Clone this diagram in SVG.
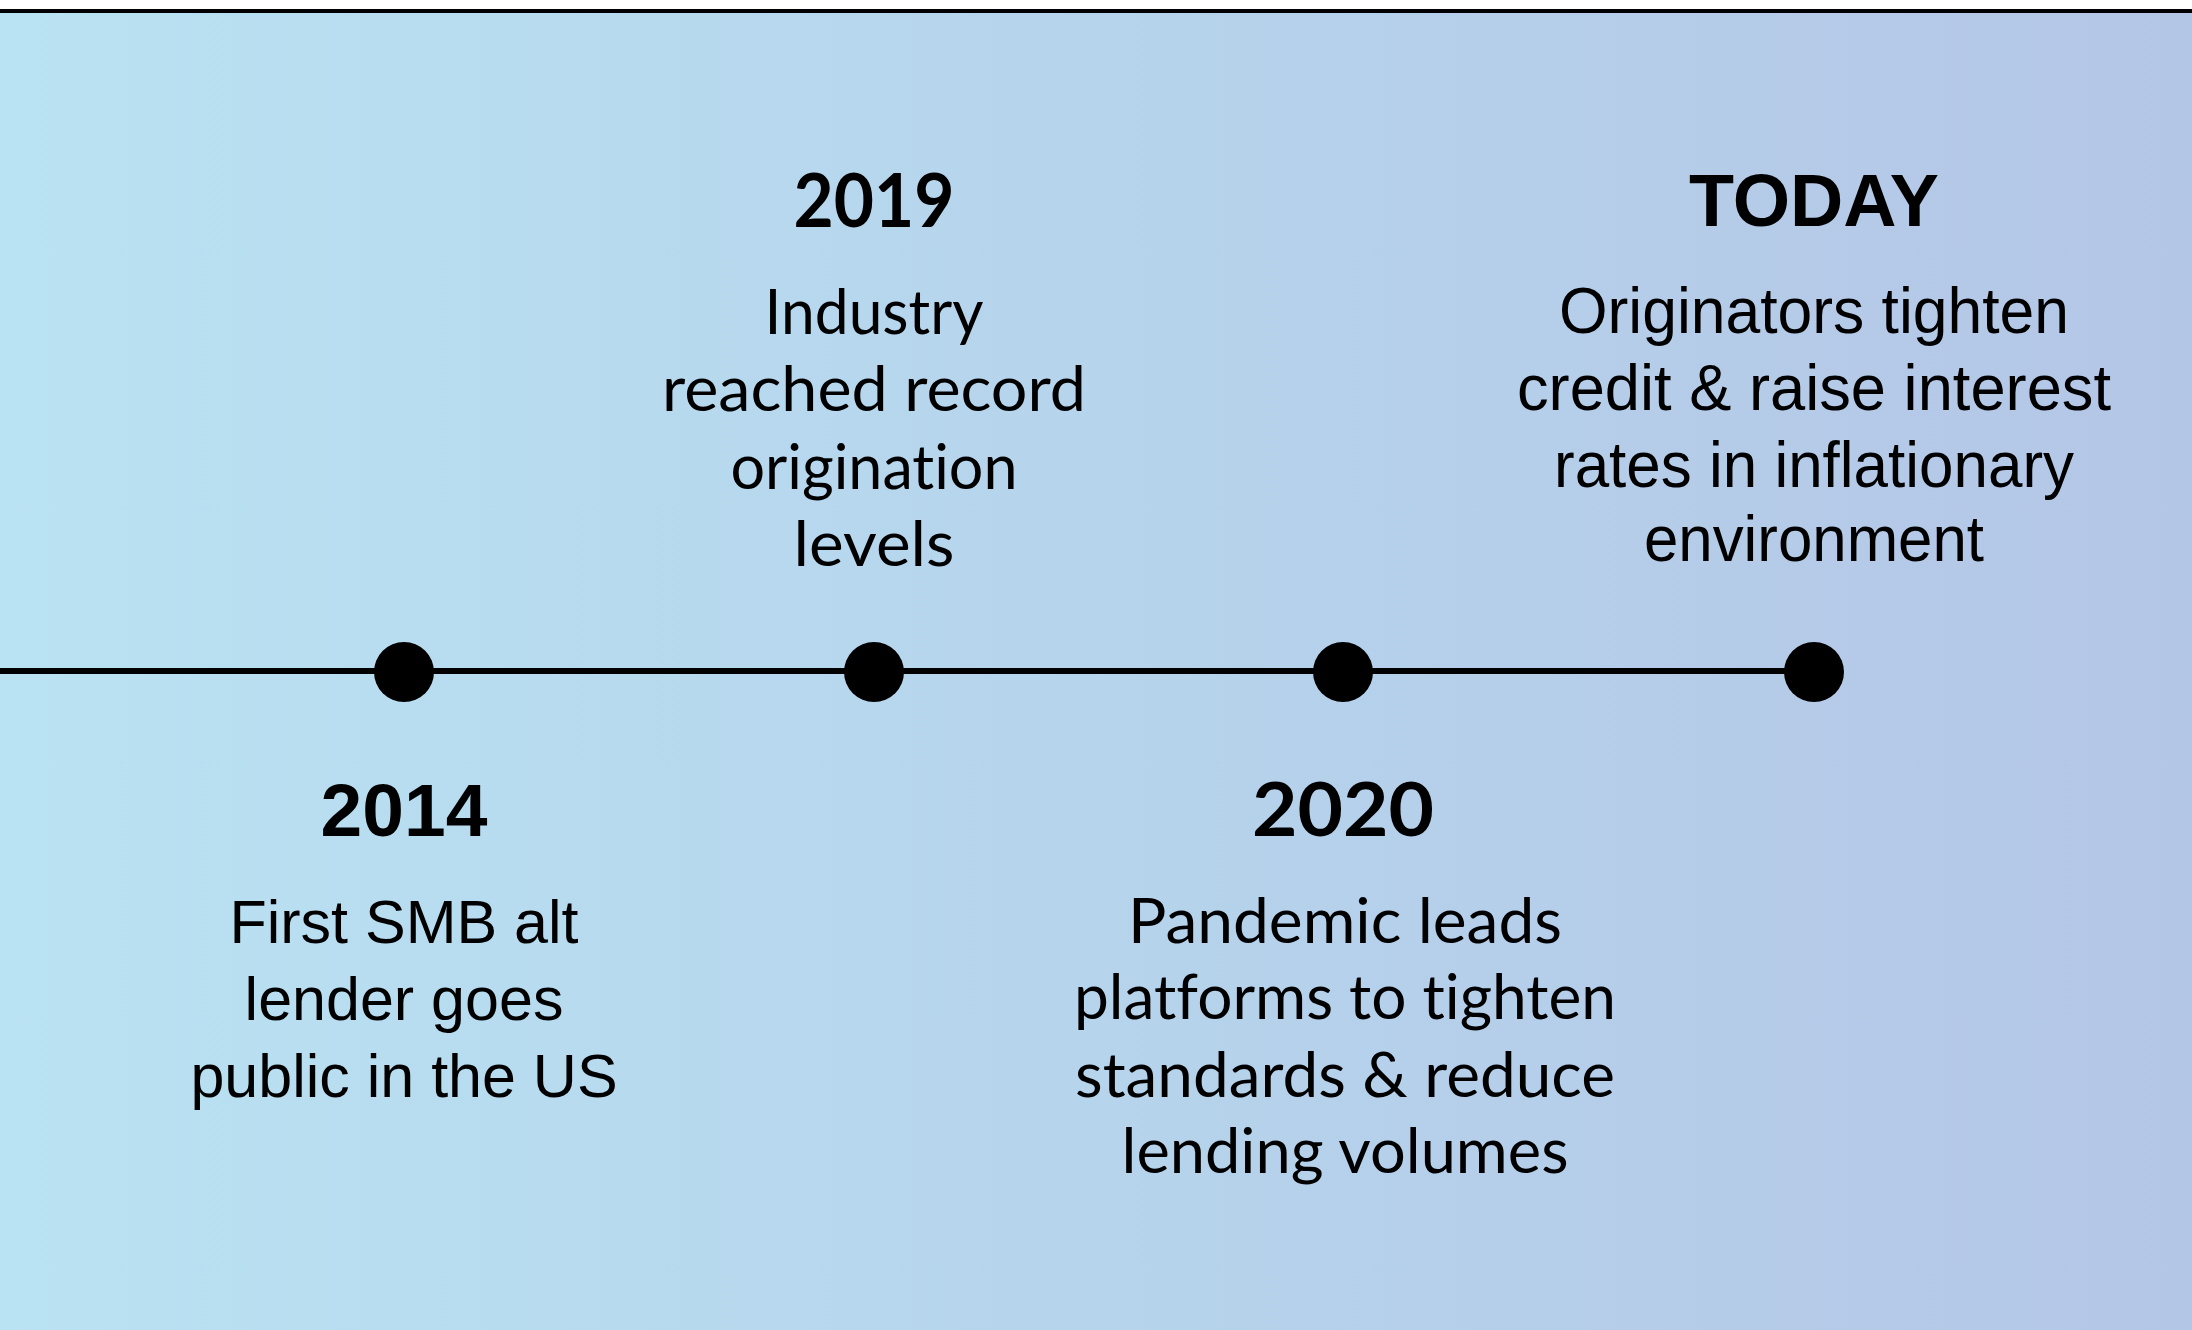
<svg xmlns="http://www.w3.org/2000/svg" width="2192" height="1330" viewBox="0 0 2192 1330">
  <defs>
    <linearGradient id="bg" x1="0" y1="0" x2="1" y2="0">
      <stop offset="0" stop-color="#b9e2f2"/>
      <stop offset="0.5" stop-color="#b6d4ec"/>
      <stop offset="1" stop-color="#b4c6e6"/>
    </linearGradient>
    <style>
      text { fill: #000; text-anchor: middle; font-variant-ligatures: none; }
      .year { font-family: "Liberation Sans", Arial, sans-serif; font-weight: bold; font-size: 75px; }
      .geo-year { font-family: "Lato", "Liberation Sans", sans-serif; font-weight: bold; font-size: 75px; }
      .body { font-family: "Liberation Sans", Arial, sans-serif; font-size: 61px; }
      .body-today { font-family: "Liberation Sans", Arial, sans-serif; font-size: 64px; }
      .geo { font-family: "Lato", "Liberation Sans", sans-serif; font-size: 62px; }
      .dot { fill: #000; }
      .axis { stroke: #000; stroke-width: 6; fill: none; }
    </style>
  </defs>

  <!-- background and top rule -->
  <rect x="0" y="0" width="2192" height="1330" fill="#ffffff"/>
  <rect x="0" y="12" width="2192" height="1318" fill="url(#bg)"/>
  <rect x="0" y="9" width="2192" height="4" fill="#000"/>

  <!-- timeline axis -->
  <g id="connectors">
    <line class="axis" x1="0" y1="671" x2="1814" y2="671"/>
  </g>

  <!-- milestone 2014 -->
  <g id="node-2014">
    <circle class="dot" cx="404" cy="672" r="30"/>
    <text class="year" x="404" y="836">2014</text>
    <text class="body" x="404" y="943">First SMB alt</text>
    <text class="body" x="404" y="1020">lender goes</text>
    <text class="body" x="404" y="1097">public in the US</text>
  </g>

  <!-- milestone 2019 -->
  <g id="node-2019">
    <circle class="dot" cx="874" cy="672" r="30"/>
    <text class="geo-year" x="874" y="227" textLength="161" lengthAdjust="spacingAndGlyphs">2019</text>
    <text class="geo" x="874" y="334" textLength="219" lengthAdjust="spacingAndGlyphs">Industry</text>
    <text class="geo" x="874" y="411" textLength="424" lengthAdjust="spacingAndGlyphs">reached record</text>
    <text class="geo" x="874" y="489" textLength="287" lengthAdjust="spacingAndGlyphs">origination</text>
    <text class="geo" x="874" y="566" textLength="161" lengthAdjust="spacingAndGlyphs">levels</text>
  </g>

  <!-- milestone 2020 -->
  <g id="node-2020">
    <circle class="dot" cx="1343" cy="672" r="30"/>
    <text class="geo-year" x="1343" y="836" textLength="182" lengthAdjust="spacingAndGlyphs">2020</text>
    <text class="geo" x="1345" y="943" textLength="434" lengthAdjust="spacingAndGlyphs">Pandemic leads</text>
    <text class="geo" x="1345" y="1019" textLength="542" lengthAdjust="spacingAndGlyphs">platforms to tighten</text>
    <text class="geo" x="1345" y="1097" textLength="540" lengthAdjust="spacingAndGlyphs">standards &amp; reduce</text>
    <text class="geo" x="1345" y="1173" textLength="447" lengthAdjust="spacingAndGlyphs">lending volumes</text>
  </g>

  <!-- milestone today -->
  <g id="node-today">
    <circle class="dot" cx="1814" cy="672" r="30"/>
    <text class="year" x="1814" y="226" textLength="250" lengthAdjust="spacingAndGlyphs">TODAY</text>
    <text class="body-today" x="1814" y="333" textLength="510" lengthAdjust="spacingAndGlyphs">Originators tighten</text>
    <text class="body-today" x="1814" y="410" textLength="594" lengthAdjust="spacingAndGlyphs">credit &amp; raise interest</text>
    <text class="body-today" x="1814" y="487" textLength="520" lengthAdjust="spacingAndGlyphs">rates in inflationary</text>
    <text class="body-today" x="1814" y="561" textLength="340" lengthAdjust="spacingAndGlyphs">environment</text>
  </g>
</svg>
